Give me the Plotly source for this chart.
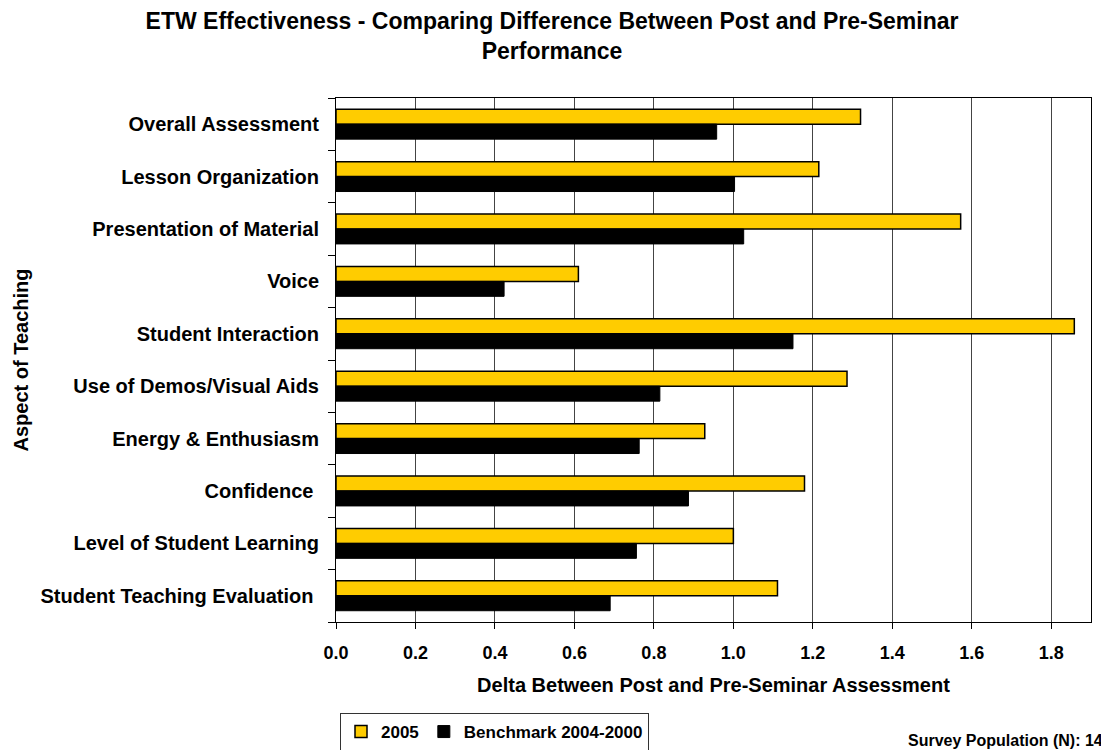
import plotly.graph_objects as go

categorias = [
    "Overall Assessment",
    "Lesson Organization",
    "Presentation of Material",
    "Voice",
    "Student Interaction",
    "Use of Demos/Visual Aids",
    "Energy & Enthusiasm",
    "Confidence\u00a0",
    "Level of Student Learning",
    "Student Teaching Evaluation\u00a0",
]
valores_2005 = [1.32, 1.215, 1.572, 0.61, 1.858, 1.286, 0.928, 1.179, 1.0, 1.111]
valores_benchmark = [0.958, 1.003, 1.026, 0.423, 1.15, 0.815, 0.763, 0.887, 0.756, 0.69]
ticks_x = [0.0, 0.2, 0.4, 0.6, 0.8, 1.0, 1.2, 1.4, 1.6, 1.8]

fonte = "Liberation Sans, Arial, sans-serif"

# a pagina tem 8px de margem no body, por isso a figura e menor
W, H = 1101, 742

fig = go.Figure()

fig.add_trace(
    go.Bar(
        y=categorias,
        x=valores_2005,
        orientation="h",
        name="<b>2005</b>",
        marker=dict(color="#FFCC00", line=dict(color="#000000", width=1.5)),
    )
)
fig.add_trace(
    go.Bar(
        y=categorias,
        x=valores_benchmark,
        orientation="h",
        name="<b>Benchmark 2004-2000</b>",
        marker=dict(color="#000000", line=dict(color="#000000", width=1)),
    )
)

fig.update_layout(
    width=W,
    height=H,
    barmode="group",
    bargap=0.43,
    bargroupgap=0,
    paper_bgcolor="white",
    plot_bgcolor="white",
    margin=dict(l=328, r=18, t=90, b=128),
    font=dict(family=fonte, size=18, color="black"),
    title=dict(
        text="<b>ETW Effectiveness - Comparing Difference Between Post and Pre-Seminar<br>Performance</b>",
        x=544 / W,
        xanchor="center",
        y=1 - 21 / H,
        yanchor="top",
        font=dict(family=fonte, size=23, color="black"),
    ),
    legend=dict(
        orientation="h",
        xref="container",
        yref="container",
        x=332 / W,
        y=1 - 705 / H,
        xanchor="left",
        yanchor="top",
        bordercolor="#333333",
        borderwidth=1,
        font=dict(family=fonte, size=17, color="black"),
        itemwidth=30,
        traceorder="normal",
    ),
    showlegend=True,
    annotations=[
        dict(
            text="<b>Survey Population (N): 14</b>",
            xref="paper",
            yref="paper",
            x=(1097 - 328) / 755,
            y=(614 - 732) / 524,
            xanchor="right",
            yanchor="middle",
            showarrow=False,
            font=dict(family=fonte, size=16, color="black"),
        )
    ],
)

fig.update_xaxes(
    range=[0, 1.9],
    tickvals=ticks_x,
    ticktext=[f"<b>{v:.1f}</b>" for v in ticks_x],
    ticks="outside",
    ticklen=6,
    tickcolor="black",
    ticklabelstandoff=8,
    showgrid=True,
    gridcolor="#444444",
    gridwidth=1,
    showline=True,
    linecolor="black",
    linewidth=1,
    mirror=True,
    zeroline=False,
    title=dict(
        text="<b>Delta Between Post and Pre-Seminar Assessment</b>",
        font=dict(family=fonte, size=20, color="black"),
        standoff=16,
    ),
    tickfont=dict(family=fonte, size=18, color="black"),
)

fig.update_yaxes(
    autorange="reversed",
    tickvals=categorias,
    ticktext=[f"<b>{c}</b>" for c in categorias],
    tickson="boundaries",
    ticks="outside",
    ticklen=7,
    tickcolor="black",
    ticklabelstandoff=12,
    showgrid=False,
    showline=True,
    linecolor="black",
    linewidth=1,
    mirror=True,
    title=dict(
        text="<b>Aspect of Teaching</b>",
        font=dict(family=fonte, size=20, color="black"),
        standoff=6,
    ),
    tickfont=dict(family=fonte, size=20, color="black"),
)

fig.write_html("out.html")
